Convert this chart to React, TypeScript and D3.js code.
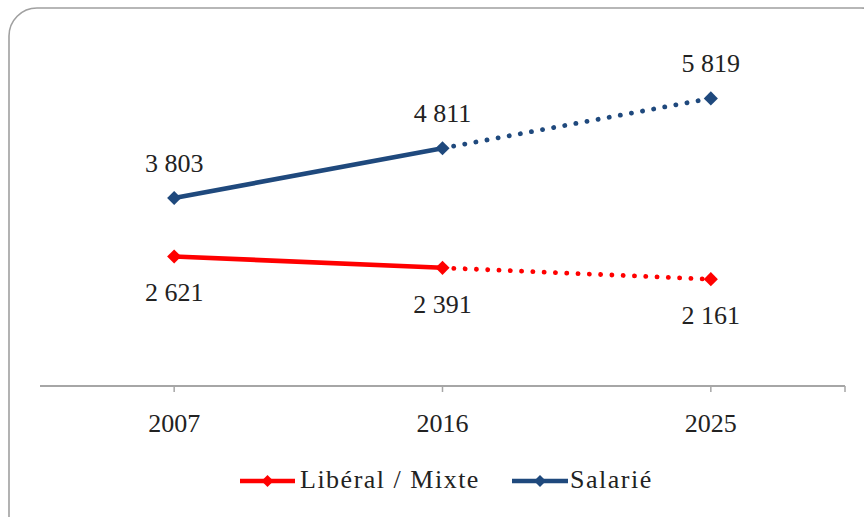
import React from "react";
import * as d3 from "d3";

const categories = ["2007", "2016", "2025"];
const liberal = [2621, 2391, 2161];
const salarie = [3803, 4811, 5819];
const seriesNames = ["Libéral / Mixte", "Salarié"];
const colors = ["#FF0000", "#1F497D"];
const yMax = 7000;

const W = 864;
const H = 517;
const FONT = "Liberation Serif, serif";

export default function App() {
  const x = d3.scalePoint<string>().domain(categories).range([40, 845]).padding(0.5);
  const y = d3.scaleLinear().domain([0, yMax]).range([386, 40]);
  const diamond = d3.symbol().type(d3.symbolSquare).size(100)();
  const diamondSmall = d3.symbol().type(d3.symbolSquare).size(72)();

  const series = [
    { name: seriesNames[0], values: liberal, color: colors[0], labelDy: 45 },
    { name: seriesNames[1], values: salarie, color: colors[1], labelDy: -26 },
  ];
  const line = d3
    .line<[string, number]>()
    .x((d) => x(d[0]) as number)
    .y((d) => y(d[1]));
  const fmt = (v: number) => {
    const s = String(v);
    return s.length > 3 ? s.slice(0, s.length - 3) + " " + s.slice(-3) : s;
  };
  const [r0, r1] = x.range();
  const ticks = [...categories.map((c) => x(c) as number), r1];

  const legendItems = [
    { x0: 240, x1: 295, tx: 300 },
    { x0: 512, x1: 568, tx: 570 },
  ];
  const textStyle = { fontFamily: FONT, fontSize: "26px" };

  return (
    <svg
      width={W}
      height={H}
      style={{ position: "absolute", left: 0, top: 0, background: "#fff" }}
    >
      <rect x={9} y={8} width={880} height={540} rx={28} ry={28} fill="#fff" stroke="#A0A0A0" strokeWidth={1.6} />
      <line x1={r0} x2={r1} y1={y(0)} y2={y(0)} stroke="#A6A6A6" strokeWidth={2} />
      {ticks.map((t, i) => (
        <line key={i} x1={t} x2={t} y1={y(0)} y2={y(0) + 6} stroke="#A6A6A6" strokeWidth={1.5} />
      ))}
      {categories.map((c) => (
        <text key={c} x={x(c)} y={432} textAnchor="middle" style={textStyle} fill="#222">
          {c}
        </text>
      ))}
      {series.map((s) => {
        const pts = categories.map((c, i) => [c, s.values[i]] as [string, number]);
        return (
          <g key={s.name}>
            <path d={line(pts.slice(0, 2)) || ""} fill="none" stroke={s.color} strokeWidth={4.6} />
            <path
              d={line(pts.slice(1)) || ""}
              fill="none"
              stroke={s.color}
              strokeWidth={4.8}
              strokeLinecap="round"
              strokeDasharray="0.1 11.2"
            />
            {pts.map((p, i) => (
              <path
                key={i}
                d={diamond || ""}
                transform={`translate(${x(p[0])},${y(p[1])}) rotate(45)`}
                fill={s.color}
              />
            ))}
            {pts.map((p, i) => (
              <text
                key={"l" + i}
                x={x(p[0])}
                y={y(p[1]) + s.labelDy}
                textAnchor="middle"
                style={textStyle}
                fill="#222"
              >
                {fmt(p[1])}
              </text>
            ))}
          </g>
        );
      })}
      {series.map((s, i) => {
        const li = legendItems[i];
        const cy = 481;
        return (
          <g key={"leg" + i}>
            <line x1={li.x0} x2={li.x1} y1={cy} y2={cy} stroke={s.color} strokeWidth={4.6} />
            <path d={diamondSmall || ""} transform={`translate(${(li.x0 + li.x1) / 2},${cy}) rotate(45)`} fill={s.color} />
            <text x={li.tx} y={488} style={{ ...textStyle, letterSpacing: "1.5px" }} fill="#222">
              {s.name}
            </text>
          </g>
        );
      })}
    </svg>
  );
}
